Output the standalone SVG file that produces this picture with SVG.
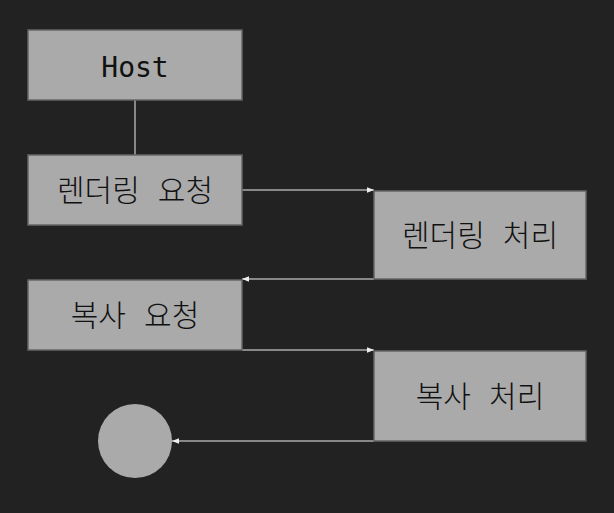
<svg xmlns="http://www.w3.org/2000/svg" width="614" height="513" viewBox="0 0 614 513">
<style>
.box{fill:#aaaaaa;stroke:#666666;stroke-width:1.5}
.t{font-family:"DejaVu Sans Mono","Noto Sans CJK KR",monospace;font-size:28px;fill:#111111;text-anchor:middle}
.k{font-family:"DejaVu Sans Mono","Noto Sans CJK KR",monospace;font-size:30px;font-weight:300;fill:#111111;text-anchor:middle}
.e{stroke:#eeeeee;stroke-width:1.2;fill:none;marker-end:url(#ah)}
</style>
<defs>
<marker id="ah" viewBox="0 0 10 10" refX="10" refY="5" markerWidth="9" markerHeight="7" markerUnits="userSpaceOnUse" orient="auto">
<path d="M0,1 L10,5 L0,9 z" fill="#eeeeee"/>
</marker>
</defs>
<rect width="614" height="513" fill="#222222"/>
<g id="connectors">
<line x1="135" y1="100" x2="135" y2="155" stroke="#aaaaaa" stroke-width="1.5"/>
<line class="e" x1="242" y1="190" x2="374" y2="190"/>
<line class="e" x1="374" y1="279" x2="242" y2="279"/>
<line class="e" x1="242" y1="350" x2="374" y2="350"/>
<line class="e" x1="374" y1="441" x2="172" y2="441"/>
</g>
<g id="host"><rect class="box" x="28" y="30" width="214" height="70"/><text class="t" x="135" y="77">Host</text></g>
<g id="render-req"><rect class="box" x="28" y="155" width="214" height="70"/><text class="k" x="135" y="201">렌더링 요청</text></g>
<g id="render-proc"><rect class="box" x="374" y="191" width="212" height="88"/><text class="k" x="480" y="246">렌더링 처리</text></g>
<g id="copy-req"><rect class="box" x="28" y="280" width="214" height="70"/><text class="k" x="135" y="326">복사 요청</text></g>
<g id="copy-proc"><rect class="box" x="374" y="351" width="212" height="90"/><text class="k" x="480" y="407">복사 처리</text></g>
<g id="end"><circle cx="135" cy="441" r="37" fill="#aaaaaa"/></g>
</svg>
